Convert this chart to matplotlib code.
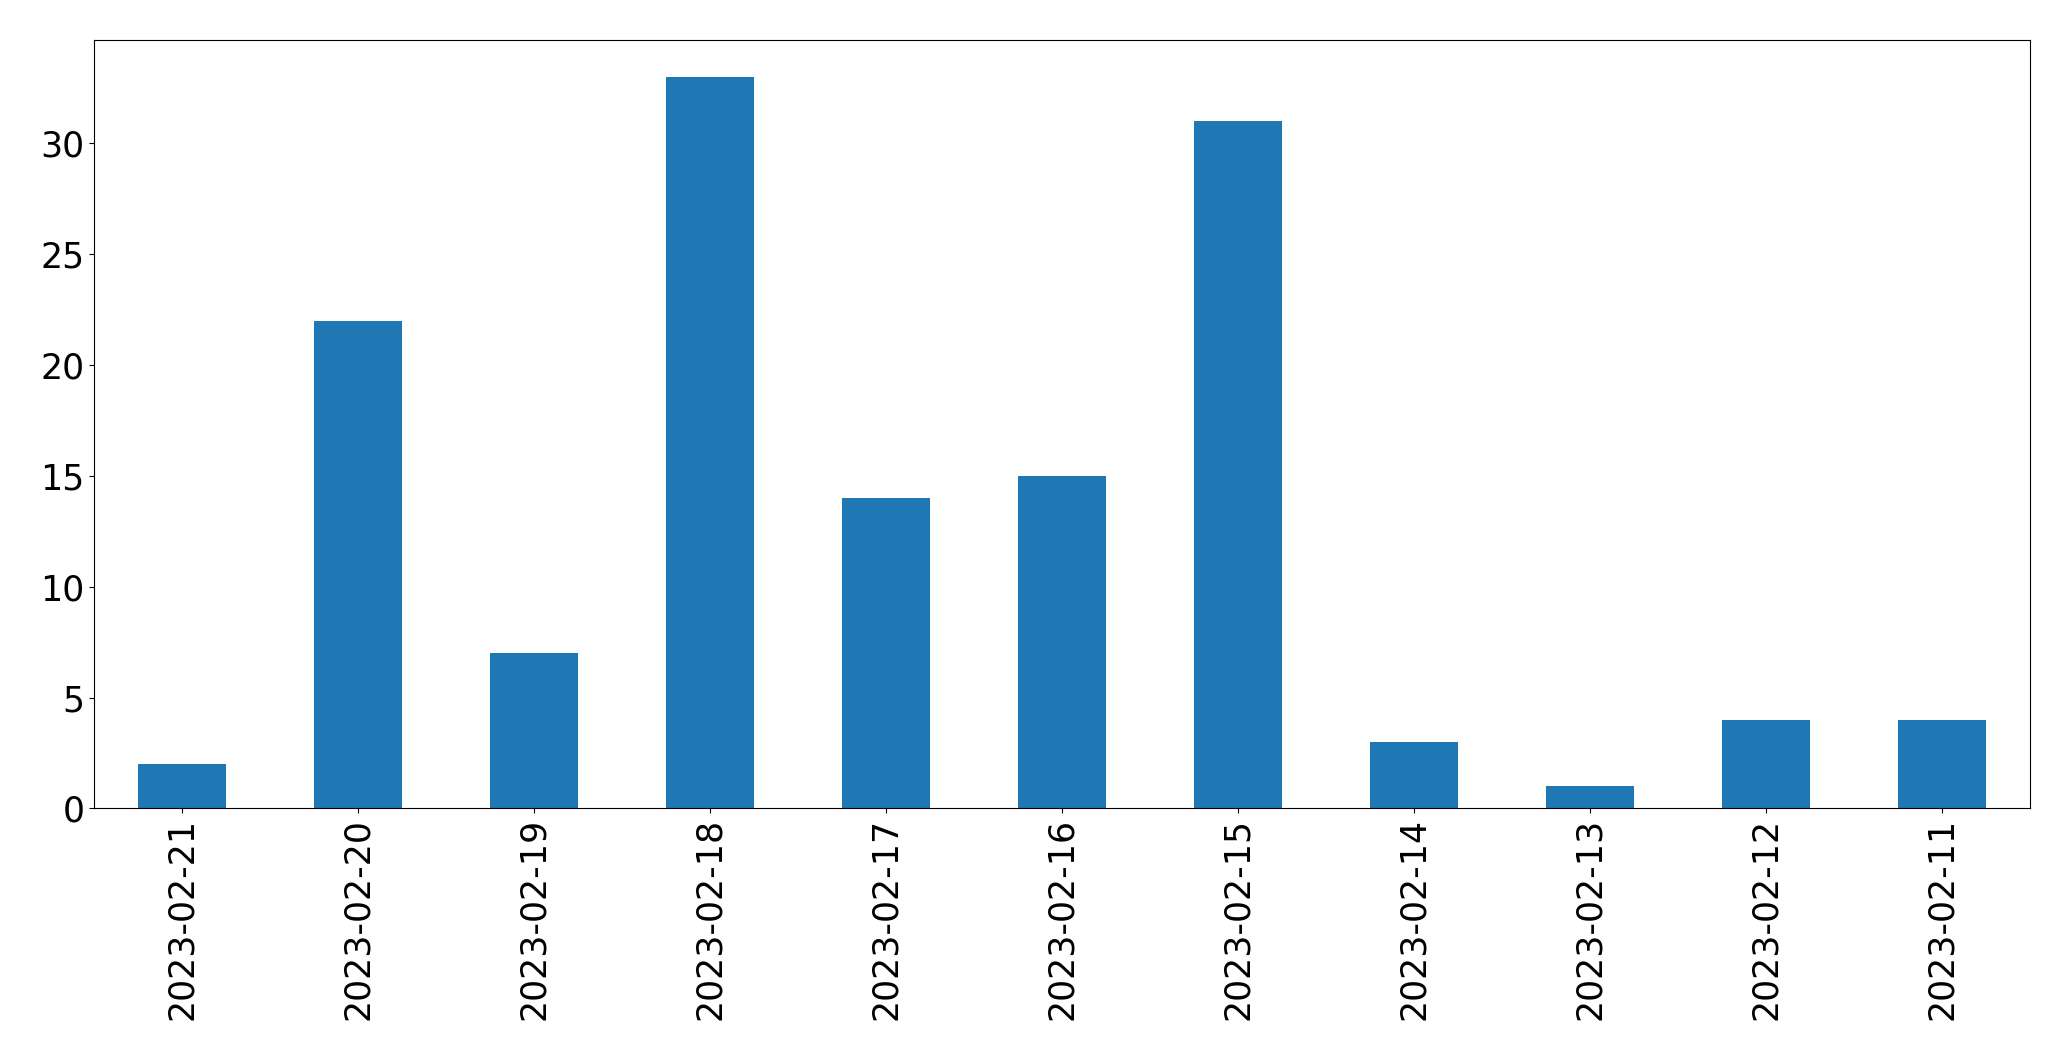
from matplotlib import pyplot as plt
import pandas as pd

dates = ['2023-02-21', '2023-02-20', '2023-02-19', '2023-02-18', '2023-02-17', '2023-02-16',
         '2023-02-15', '2023-02-14', '2023-02-13', '2023-02-12', '2023-02-11']
counts = [2, 22, 7, 33, 14, 15, 31, 3, 1, 4, 4]

s = pd.Series(counts, index=dates)

fig, ax = plt.subplots(figsize=(20.71, 10.61), dpi=100)
s.plot(kind='bar', ax=ax, color='#1f77b4')
ax.tick_params(labelsize=25)
fig.subplots_adjust(left=0.0454, right=0.980, top=0.962, bottom=0.238)
fig.savefig('out.png', dpi=100)
